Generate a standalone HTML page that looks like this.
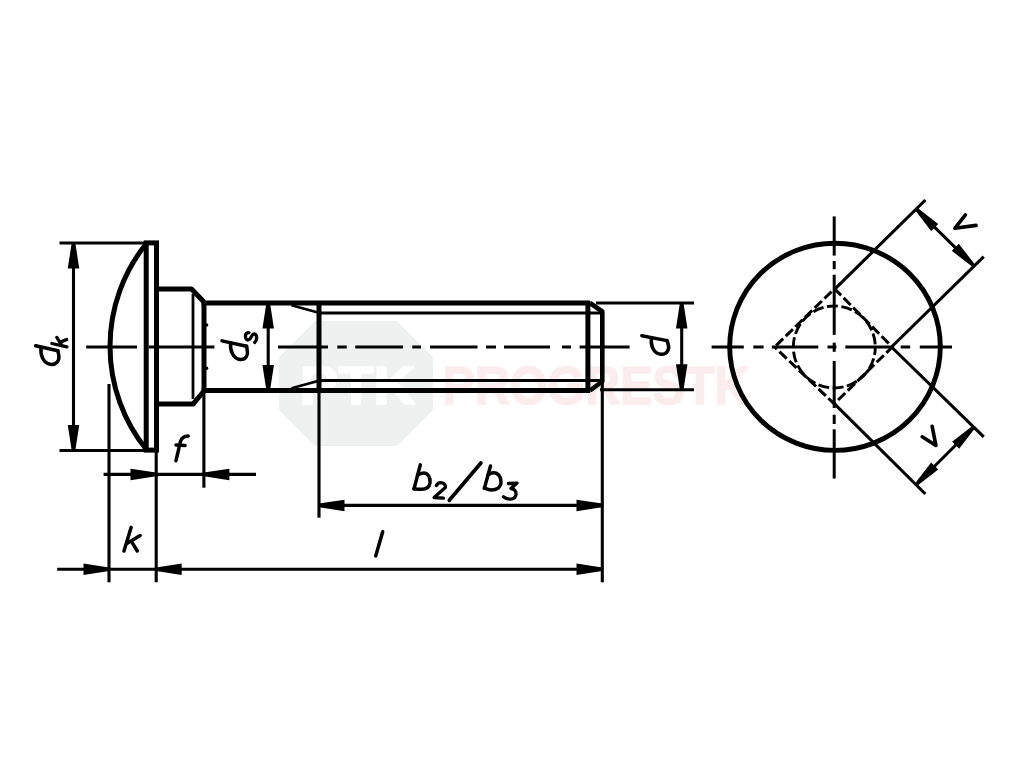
<!DOCTYPE html>
<html><head><meta charset="utf-8"><style>
html,body{margin:0;padding:0;background:#fff;}
svg{display:block;}
</style></head><body>
<svg width="1024" height="768" viewBox="0 0 1024 768" stroke="#000" fill="none">
<rect x="0" y="0" width="1024" height="768" fill="#fff" stroke="none"/>
<polygon points="315,321 397,321 433,357 433,410 397,446 315,446 279,410 279,357" fill="#eff1f1" stroke="none"/>
<text x="299.5" y="403.5" font-family="Liberation Sans" font-weight="bold" font-size="53" fill="#fff" stroke="#fff" stroke-width="1.6" stroke-linejoin="round" textLength="116" lengthAdjust="spacingAndGlyphs">PTK</text>
<text x="442.5" y="403.5" font-family="Liberation Sans" font-weight="bold" font-size="53" fill="#fbeded" stroke="#fbeded" stroke-width="1.6" stroke-linejoin="round" textLength="307" lengthAdjust="spacingAndGlyphs">PROGRESTK</text>
<line x1="59.5" y1="243" x2="146" y2="243" stroke-width="3.1" stroke-linecap="butt" />
<line x1="59.5" y1="450.5" x2="146" y2="450.5" stroke-width="3.1" stroke-linecap="butt" />
<line x1="73.5" y1="250" x2="73.5" y2="444" stroke-width="3.1" stroke-linecap="butt" />
<polygon points="75.30,243.00 71.70,243.00 67.75,268.50 79.25,268.50" fill="#000" stroke="none"/>
<polygon points="71.70,450.50 75.30,450.50 79.25,425.00 67.75,425.00" fill="#000" stroke="none"/>
<rect x="146.2" y="242.9" width="10.3" height="207.2" stroke-width="5.0" fill="none"/>
<path d="M146,244 A164,164 0 0 0 146,449" stroke-width="5.0" fill="none" />
<path d="M156.5,289 L191.5,289 L204,302" stroke-width="5.0" fill="none" stroke-linejoin="round"/>
<path d="M156.5,404.1 L193,404.1 L204,391" stroke-width="5.0" fill="none" stroke-linejoin="round"/>
<line x1="193" y1="294" x2="193" y2="399" stroke-width="2.8" stroke-linecap="butt" />
<circle cx="206.6" cy="325" r="1.7" fill="#000" stroke="none"/>
<circle cx="206.6" cy="368.2" r="1.7" fill="#000" stroke="none"/>
<line x1="201.8" y1="303" x2="590" y2="303" stroke-width="5.0" stroke-linecap="butt" />
<line x1="201.8" y1="390.5" x2="590" y2="390.5" stroke-width="5.0" stroke-linecap="butt" />
<line x1="204" y1="301" x2="204" y2="392.5" stroke-width="5.0" stroke-linecap="butt" />
<line x1="319" y1="303" x2="319" y2="390.5" stroke-width="5.0" stroke-linecap="butt" />
<line x1="319" y1="313" x2="588" y2="313" stroke-width="3.0" stroke-linecap="butt" />
<line x1="319" y1="380.5" x2="588" y2="380.5" stroke-width="3.0" stroke-linecap="butt" />
<line x1="291.5" y1="305.2" x2="317" y2="312.3" stroke-width="2.6" stroke-linecap="butt" />
<line x1="291.5" y1="388.3" x2="317" y2="381.2" stroke-width="2.6" stroke-linecap="butt" />
<line x1="587.9" y1="301" x2="587.9" y2="392.5" stroke-width="5.0" stroke-linecap="butt" />
<path d="M590,303 L602.3,311.5 L602.3,381.5 L590,390.5" stroke-width="4.6" fill="none" stroke-linejoin="round"/>
<line x1="588" y1="313" x2="602" y2="313" stroke-width="3.0" stroke-linecap="butt" />
<line x1="588" y1="380.5" x2="602" y2="380.5" stroke-width="3.0" stroke-linecap="butt" />
<line x1="596" y1="303" x2="694" y2="303" stroke-width="3.1" stroke-linecap="butt" />
<line x1="600" y1="389.7" x2="694" y2="389.7" stroke-width="3.1" stroke-linecap="butt" />
<line x1="681.7" y1="309" x2="681.7" y2="384" stroke-width="3.1" stroke-linecap="butt" />
<polygon points="683.50,303.00 679.90,303.00 675.95,328.50 687.45,328.50" fill="#000" stroke="none"/>
<polygon points="679.90,389.70 683.50,389.70 687.45,364.20 675.95,364.20" fill="#000" stroke="none"/>
<line x1="268.2" y1="309" x2="268.2" y2="384" stroke-width="3.1" stroke-linecap="butt" />
<polygon points="270.00,303.00 266.40,303.00 262.45,328.50 273.95,328.50" fill="#000" stroke="none"/>
<polygon points="266.40,390.50 270.00,390.50 273.95,365.00 262.45,365.00" fill="#000" stroke="none"/>
<line x1="86.2" y1="347.0" x2="137" y2="347.0" stroke-width="3.0" stroke-linecap="butt" />
<line x1="148.7" y1="347.0" x2="214.4" y2="347.0" stroke-width="3.0" stroke-linecap="butt" />
<line x1="278" y1="347.0" x2="328" y2="347.0" stroke-width="3.0" stroke-linecap="butt" />
<line x1="337.3" y1="347.0" x2="346.7" y2="347.0" stroke-width="3.0" stroke-linecap="butt" />
<line x1="355.3" y1="347.0" x2="403" y2="347.0" stroke-width="3.0" stroke-linecap="butt" />
<line x1="412.3" y1="347.0" x2="421" y2="347.0" stroke-width="3.0" stroke-linecap="butt" />
<line x1="430" y1="347.0" x2="477.5" y2="347.0" stroke-width="3.0" stroke-linecap="butt" />
<line x1="486" y1="347.0" x2="496" y2="347.0" stroke-width="3.0" stroke-linecap="butt" />
<line x1="504" y1="347.0" x2="550" y2="347.0" stroke-width="3.0" stroke-linecap="butt" />
<line x1="562" y1="347.0" x2="571" y2="347.0" stroke-width="3.0" stroke-linecap="butt" />
<line x1="579.6" y1="347.0" x2="629.6" y2="347.0" stroke-width="3.0" stroke-linecap="butt" />
<line x1="109" y1="384" x2="109" y2="582.3" stroke-width="3.1" stroke-linecap="butt" />
<line x1="156.2" y1="450" x2="156.2" y2="582.3" stroke-width="3.1" stroke-linecap="butt" />
<line x1="203.9" y1="392" x2="203.9" y2="487.7" stroke-width="3.1" stroke-linecap="butt" />
<line x1="319" y1="392" x2="319" y2="517.7" stroke-width="3.1" stroke-linecap="butt" />
<line x1="602.3" y1="381" x2="602.3" y2="582.3" stroke-width="3.1" stroke-linecap="butt" />
<line x1="103.6" y1="474.4" x2="256" y2="474.4" stroke-width="3.1" stroke-linecap="butt" />
<polygon points="156.00,476.20 156.00,472.60 130.50,468.65 130.50,480.15" fill="#000" stroke="none"/>
<polygon points="203.90,472.60 203.90,476.20 229.40,480.15 229.40,468.65" fill="#000" stroke="none"/>
<line x1="57.2" y1="569.2" x2="602" y2="569.2" stroke-width="3.1" stroke-linecap="butt" />
<polygon points="109.00,571.00 109.00,567.40 83.50,563.45 83.50,574.95" fill="#000" stroke="none"/>
<polygon points="156.20,567.40 156.20,571.00 181.70,574.95 181.70,563.45" fill="#000" stroke="none"/>
<polygon points="602.00,571.00 602.00,567.40 576.50,563.45 576.50,574.95" fill="#000" stroke="none"/>
<line x1="319" y1="505.4" x2="602" y2="505.4" stroke-width="3.1" stroke-linecap="butt" />
<polygon points="319.00,503.60 319.00,507.20 344.50,511.15 344.50,499.65" fill="#000" stroke="none"/>
<polygon points="602.00,507.20 602.00,503.60 576.50,499.65 576.50,511.15" fill="#000" stroke="none"/>
<ellipse cx="835" cy="346.8" rx="105.3" ry="103.6" stroke-width="4.9" fill="none"/>
<line x1="711.6" y1="347" x2="743.8" y2="347" stroke-width="3.0" stroke-linecap="butt" />
<line x1="753.3" y1="347" x2="763.6" y2="347" stroke-width="3.0" stroke-linecap="butt" />
<line x1="771.8" y1="347" x2="818.3" y2="347" stroke-width="3.0" stroke-linecap="butt" />
<line x1="827.5" y1="347" x2="836.4" y2="347" stroke-width="3.0" stroke-linecap="butt" />
<line x1="845.3" y1="347" x2="891.8" y2="347" stroke-width="3.0" stroke-linecap="butt" />
<line x1="900.7" y1="347" x2="910.2" y2="347" stroke-width="3.0" stroke-linecap="butt" />
<line x1="919.8" y1="347" x2="952" y2="347" stroke-width="3.0" stroke-linecap="butt" />
<line x1="834.2" y1="216.4" x2="834.2" y2="255.6" stroke-width="3.0" stroke-linecap="butt" />
<line x1="834.2" y1="261" x2="834.2" y2="269.2" stroke-width="3.0" stroke-linecap="butt" />
<line x1="834.2" y1="274.7" x2="834.2" y2="334.9" stroke-width="3.0" stroke-linecap="butt" />
<line x1="834.2" y1="342.7" x2="834.2" y2="351.8" stroke-width="3.0" stroke-linecap="butt" />
<line x1="834.2" y1="361" x2="834.2" y2="408" stroke-width="3.0" stroke-linecap="butt" />
<line x1="834.2" y1="414.7" x2="834.2" y2="424" stroke-width="3.0" stroke-linecap="butt" />
<line x1="834.2" y1="429.3" x2="834.2" y2="478.5" stroke-width="3.0" stroke-linecap="butt" />
<polygon points="774.6,347 834.5,288.7 892.3,347 834.2,403.8" fill="none" stroke-width="3.0" stroke-dasharray="10,3.5" stroke-dashoffset="-2"/>
<circle cx="834.3" cy="347" r="41" fill="none" stroke-width="2.9" stroke-dasharray="11,3.5" stroke-dashoffset="3"/>
<line x1="834" y1="289.8" x2="925.4" y2="200" stroke-width="3.1" stroke-linecap="butt" />
<line x1="892" y1="346.5" x2="983.75" y2="256.7" stroke-width="3.1" stroke-linecap="butt" />
<line x1="892" y1="347.5" x2="983.75" y2="436.9" stroke-width="3.1" stroke-linecap="butt" />
<line x1="834" y1="403.3" x2="925.4" y2="494" stroke-width="3.1" stroke-linecap="butt" />
<line x1="917" y1="209.8" x2="973" y2="265" stroke-width="3.1" stroke-linecap="butt" />
<polygon points="918.27,208.53 915.73,211.07 931.14,231.01 938.21,223.94" fill="#000" stroke="none"/>
<polygon points="971.73,266.27 974.27,263.73 958.86,243.79 951.79,250.86" fill="#000" stroke="none"/>
<line x1="917" y1="483.75" x2="973.3" y2="427.5" stroke-width="3.1" stroke-linecap="butt" />
<polygon points="915.73,482.48 918.27,485.02 938.21,469.61 931.14,462.54" fill="#000" stroke="none"/>
<polygon points="974.57,428.77 972.03,426.23 952.09,441.64 959.16,448.71" fill="#000" stroke="none"/>
<path d="M641.8,335.7 L667,340.6" stroke-width="3.50" fill="none" stroke-linecap="round" stroke-linejoin="round"/>
<path d="M651.4,338.4 C650.6,345 653,353.2 661,354.3 C667,354.9 669.6,349 668.3,345 C667.9,342.6 667.4,341.4 667,340.6" stroke-width="3.50" fill="none" stroke-linecap="round" stroke-linejoin="round"/>
<path d="M222,340.9 L246.6,346.3" stroke-width="3.50" fill="none" stroke-linecap="round" stroke-linejoin="round"/>
<path d="M230.7,343 C229.8,350 232.8,358.4 240,359.4 C246,360 248.3,354.6 247.3,350.5 C247,348.6 246.9,347.5 246.6,346.3" stroke-width="3.50" fill="none" stroke-linecap="round" stroke-linejoin="round"/>
<path d="M248.9,332.7 C247.5,332.7 245.8,333.5 245.5,335.5 C245.2,337.8 246.2,340 247.8,340 C249.6,340 250.8,338 251.6,336.2 C252.3,334.8 253.2,334 254.2,334 C255.8,334 256.8,335.8 256.7,337.8 C256.6,339.8 255.8,341.5 254.7,342.5" stroke-width="3.30" fill="none" stroke-linecap="round" stroke-linejoin="round"/>
<path d="M35.7,345.8 L57.8,350.75" stroke-width="3.50" fill="none" stroke-linecap="round" stroke-linejoin="round"/>
<path d="M41.1,347.5 C40,355 43.2,363.2 50.5,364.3 C56.2,365 59.4,360.6 58.9,356.4 C58.6,353.8 58.2,352.4 57.8,350.75" stroke-width="3.50" fill="none" stroke-linecap="round" stroke-linejoin="round"/>
<path d="M51.9,343.5 L66.9,346.8" stroke-width="3.30" fill="none" stroke-linecap="round" stroke-linejoin="round"/>
<path d="M61.75,345.4 L56.8,337.4" stroke-width="3.30" fill="none" stroke-linecap="round" stroke-linejoin="round"/>
<path d="M60.3,342.1 L66.7,339.5" stroke-width="3.30" fill="none" stroke-linecap="round" stroke-linejoin="round"/>
<path d="M176,460.7 L180.4,441.7 C181.2,438.6 183.6,436.3 188.2,436.1" stroke-width="3.50" fill="none" stroke-linecap="round" stroke-linejoin="round"/>
<path d="M176,445 L185.1,445.5" stroke-width="3.50" fill="none" stroke-linecap="round" stroke-linejoin="round"/>
<path d="M124,551 L131.1,527.5" stroke-width="3.50" fill="none" stroke-linecap="round" stroke-linejoin="round"/>
<path d="M127.3,543.3 L140.15,535.5" stroke-width="3.50" fill="none" stroke-linecap="round" stroke-linejoin="round"/>
<path d="M132.6,543.3 L137.3,551" stroke-width="3.50" fill="none" stroke-linecap="round" stroke-linejoin="round"/>
<path d="M375.7,555.9 L382.7,531.7" stroke-width="3.50" fill="none" stroke-linecap="round" stroke-linejoin="round"/>
<path d="M420.3,464.9 L414,488.9" stroke-width="3.50" fill="none" stroke-linecap="round" stroke-linejoin="round"/>
<path d="M417.45,475.2 C419.5,473.6 421.5,472.9 423.75,472.9 C428,472.9 430.6,477.5 430,482.8 C429.4,487.2 426,489.3 421.5,489.3 C418.5,489.3 416,489 414,488.7" stroke-width="3.50" fill="none" stroke-linecap="round" stroke-linejoin="round"/>
<path d="M436.4,485.5 C437.4,483.4 439,482.6 440.6,482.6 C443.6,482.6 445.8,484.6 445.4,487.6 L434.1,497.5 L443.4,498.1" stroke-width="3.30" fill="none" stroke-linecap="round" stroke-linejoin="round"/>
<path d="M449.3,500.3 L480.9,462.95" stroke-width="3.70" fill="none" stroke-linecap="round" stroke-linejoin="round"/>
<path d="M490.5,466 L484.4,488.1" stroke-width="3.50" fill="none" stroke-linecap="round" stroke-linejoin="round"/>
<path d="M488.2,474.75 C489.8,473.5 491.6,472.85 493.5,472.85 C498.2,472.85 501.3,477 501,482.4 C500.6,487.2 496.6,490 491.5,490 C489,490 486.5,489 484.4,488.1" stroke-width="3.50" fill="none" stroke-linecap="round" stroke-linejoin="round"/>
<path d="M508.4,483.5 L517.1,483.1 L511,488.5 C514.5,488.7 516.4,491.4 516,494.6 C515.6,498 512.6,499.3 509.5,499.1 C507,499 505,498.2 503.4,496.8" stroke-width="3.30" fill="none" stroke-linecap="round" stroke-linejoin="round"/>
<path d="M965.4,214.8 L954.8,228.3 L976.1,225.4" stroke-width="3.60" fill="none" stroke-linecap="round" stroke-linejoin="round"/>
<path d="M922.2,436.8 L935.9,445.4 L932.1,426.2" stroke-width="3.60" fill="none" stroke-linecap="round" stroke-linejoin="round"/>
</svg>
</body></html>
